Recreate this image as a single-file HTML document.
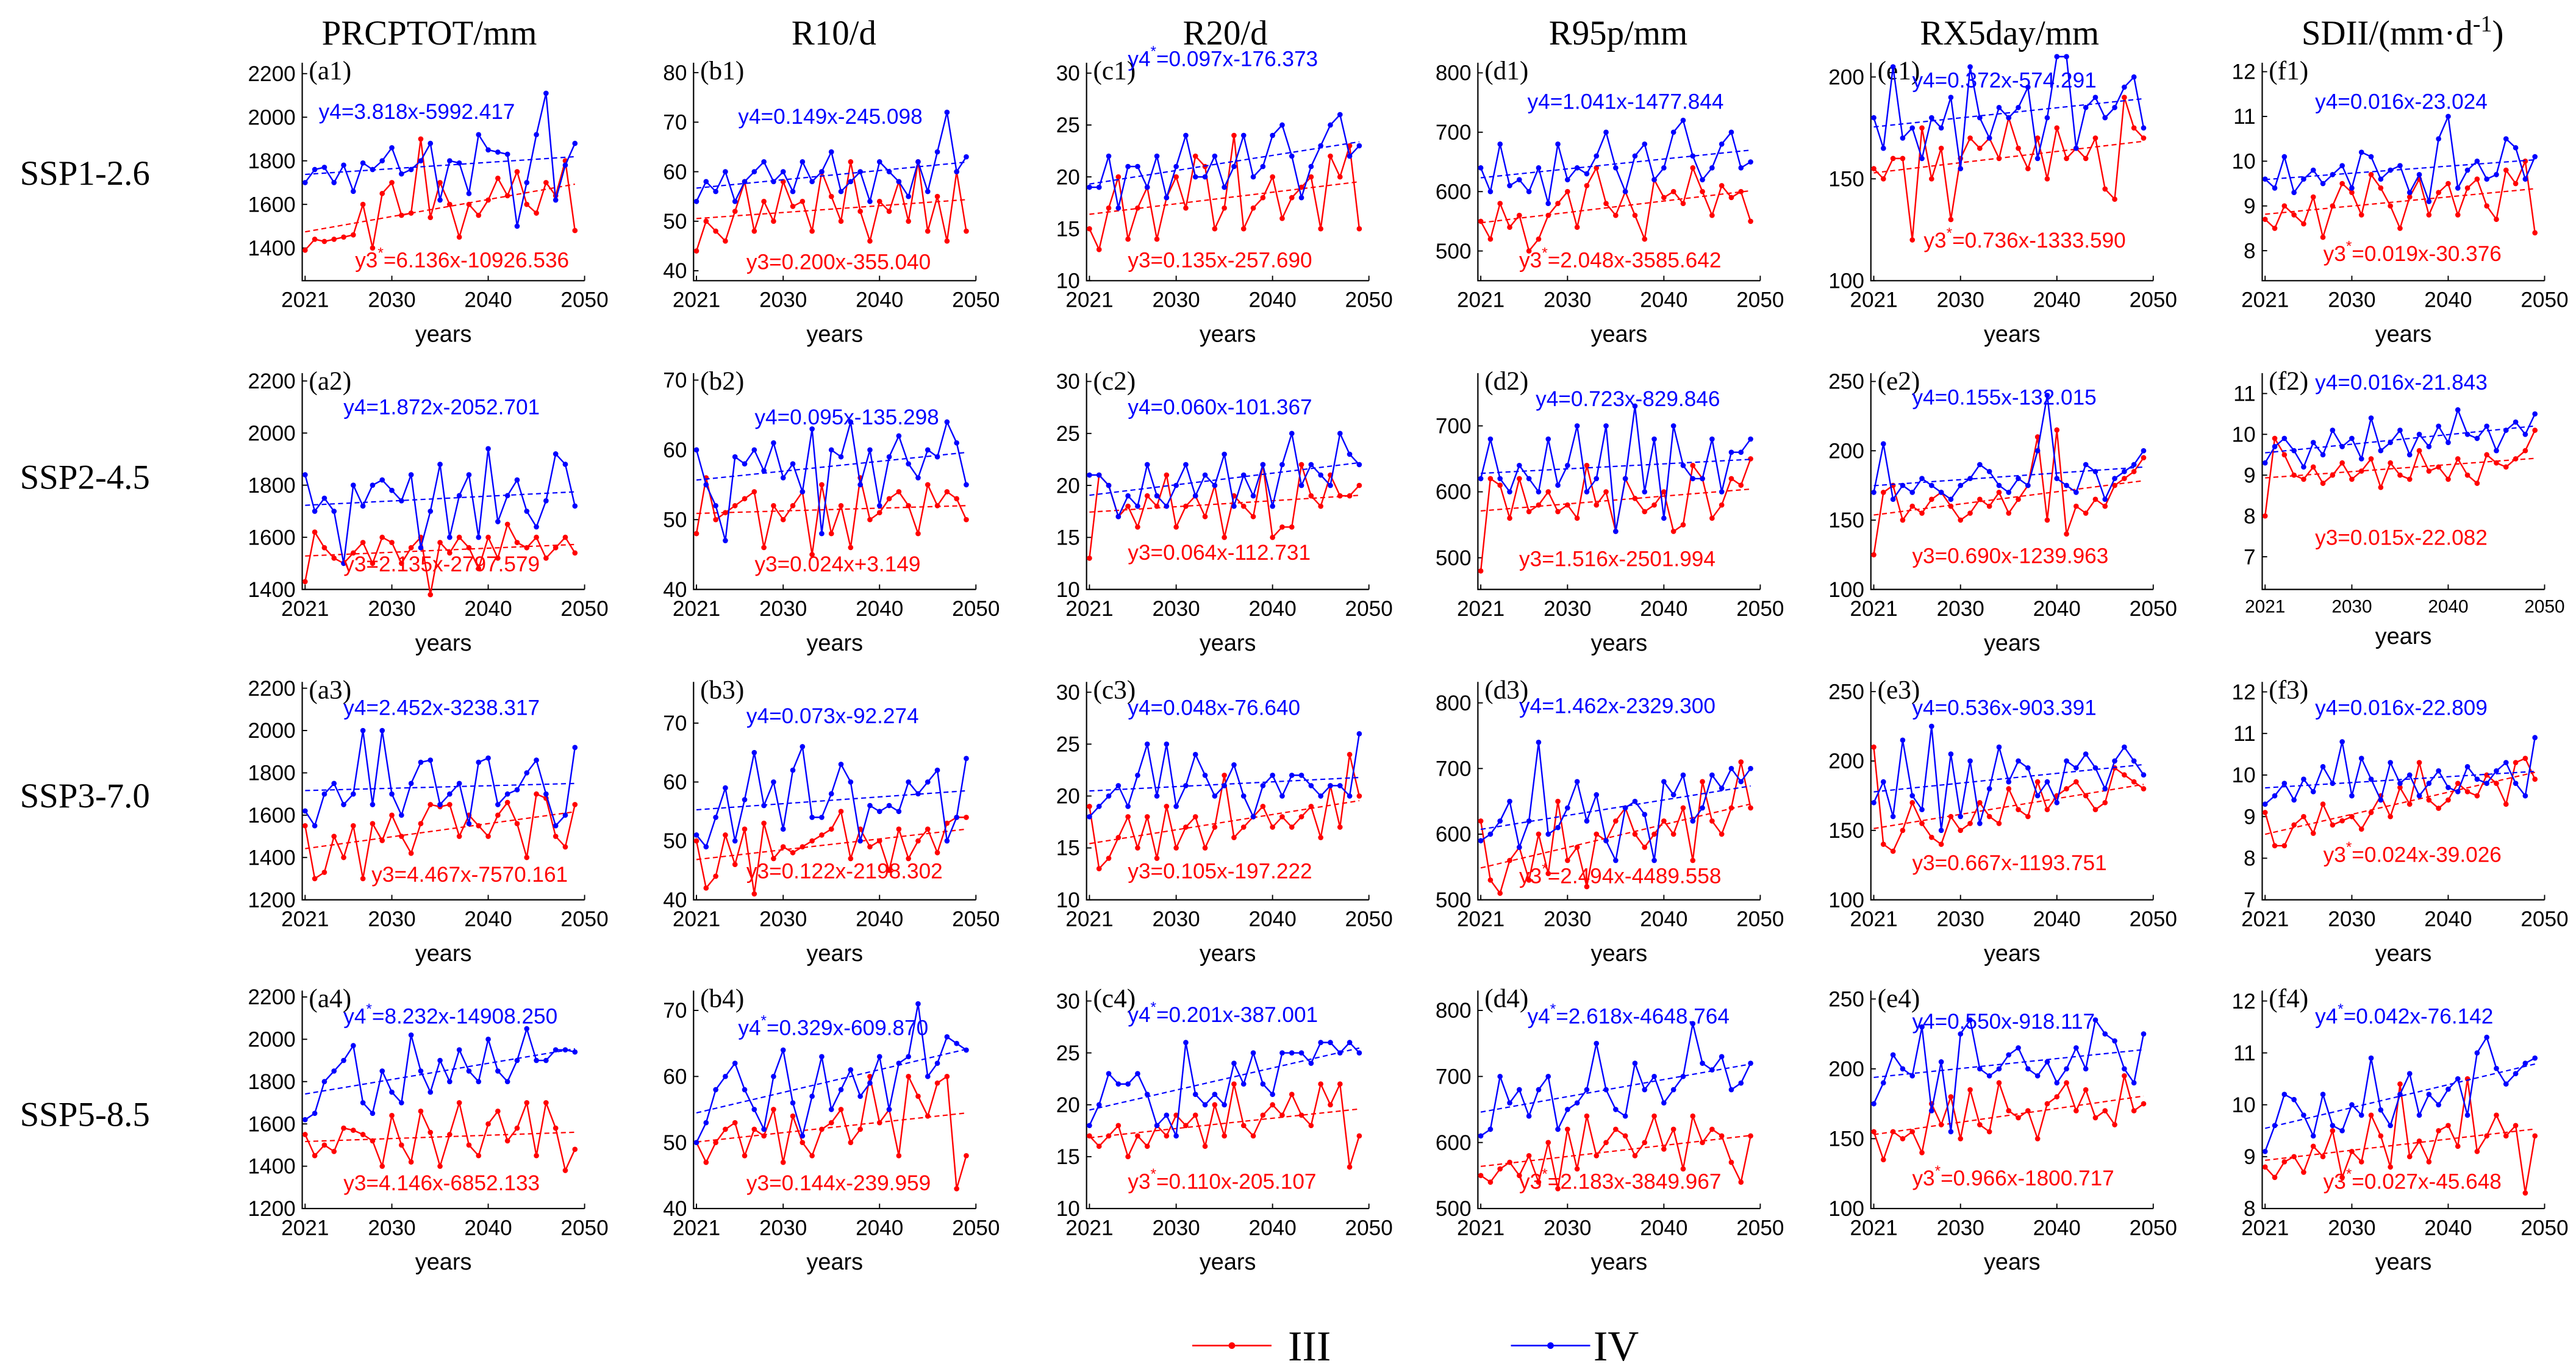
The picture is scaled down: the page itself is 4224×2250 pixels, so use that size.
<!DOCTYPE html>
<html><head><meta charset="utf-8"><style>
html,body{margin:0;padding:0;background:#fff;}
svg{display:block;}
</style></head><body>
<svg id="chart" width="4224" height="2250" viewBox="0 0 1560 831" xmlns="http://www.w3.org/2000/svg" font-family="Liberation Sans, Arial, sans-serif">
<rect width="1560" height="831" fill="#fff"/>
</svg>
<script>
const years = [];
for (let y = 2021; y <= 2049; y++) years.push(y);
const colTitles = ["PRCPTOT/mm","R10/d","R20/d","R95p/mm","RX5day/mm","SDII"];
const rowTitles = ["SSP1-2.6","SSP2-4.5","SSP3-7.0","SSP5-8.5"];
const panelLetters = ["a","b","c","d","e","f"];
const yRanges = [
 [[1250,2250,[1400,1600,1800,2000,2200]],[38,82,[40,50,60,70,80]],[10,31,[10,15,20,25,30]],[450,817,[500,600,700,800]],[100,207,[100,150,200]],[7.33,12.2,[8,9,10,11,12]]],
 [[1400,2230,[1400,1600,1800,2000,2200]],[40,71,[40,50,60,70]],[10,30.8,[10,15,20,25,30]],[452,780,[500,600,700]],[100,256,[100,150,200,250]],[6.2,11.5,[7,8,9,10,11]]],
 [[1200,2230,[1200,1400,1600,1800,2000,2200]],[40,77,[40,50,60,70]],[10,31,[10,15,20,25,30]],[500,832,[500,600,700,800]],[100,257,[100,150,200,250]],[7,12.24,[7,8,9,10,11,12]]],
 [[1200,2230,[1200,1400,1600,1800,2000,2200]],[40,73,[40,50,60,70]],[10,31,[10,15,20,25,30]],[500,830,[500,600,700,800]],[100,256,[100,150,200,250]],[8,12.2,[8,9,10,11,12]]]
];
const seriesIII = [
 [[1390,1440,1430,1440,1450,1460,1600,1400,1650,1700,1550,1560,1900,1540,1700,1600,1450,1600,1550,1620,1720,1640,1750,1600,1560,1700,1640,1800,1480],
  [44,50,48,46,52,58,48,54,50,58,53,54,48,60,55,50,62,52,46,54,52,58,50,62,48,55,46,60,48],
  [15,13,17,20,14,17,19,14,18,20,17,22,21,15,17,24,15,17,18,20,16,18,19,20,15,22,20,23,15],
  [550,520,580,540,560,500,520,560,580,600,540,610,640,580,560,600,560,520,620,590,600,580,640,600,560,610,590,600,550],
  [155,150,160,160,120,175,150,165,130,160,170,165,170,160,180,165,155,170,150,175,160,165,160,170,145,140,190,175,170],
  [8.7,8.5,9.0,8.8,8.6,9.2,8.3,9.0,9.5,9.3,8.8,9.7,9.4,9.0,8.5,9.2,9.6,8.8,9.3,9.5,8.8,9.4,9.6,9.0,8.7,9.8,9.5,10.0,8.4]],
 [[1430,1620,1560,1520,1500,1540,1580,1500,1600,1580,1500,1560,1600,1380,1580,1540,1600,1560,1480,1600,1520,1650,1580,1560,1600,1520,1560,1600,1540],
  [48,56,50,51,52,53,54,46,52,50,52,54,45,55,48,52,46,56,50,51,53,54,52,48,55,52,54,53,50],
  [13,21,20,17,18,16,19,18,21,16,18,19,17,20,15,19,18,17,22,15,16,16,22,19,18,21,19,19,20],
  [480,620,610,560,620,570,580,600,570,580,560,640,580,600,540,620,590,570,580,600,540,550,640,620,560,580,620,610,650],
  [125,170,175,150,160,155,165,170,160,150,155,165,160,170,155,165,175,210,150,215,140,160,155,165,160,175,180,185,195],
  [8.0,9.9,9.5,9.0,8.9,9.2,8.8,9.0,9.3,8.9,9.1,9.4,8.7,9.3,9.0,8.9,9.6,9.1,9.2,8.9,9.4,9.0,8.8,9.5,9.3,9.2,9.4,9.6,10.1]],
 [[1550,1300,1330,1500,1400,1550,1300,1560,1480,1600,1500,1420,1560,1650,1640,1650,1500,1600,1550,1500,1600,1660,1560,1400,1700,1680,1500,1450,1650],
  [50,42,44,51,46,52,41,53,47,49,48,49,50,51,52,55,47,52,49,50,45,52,47,50,52,48,53,54,54],
  [19,13,14,16,18,15,18,14,19,15,17,18,15,17,22,16,17,18,19,17,18,17,18,19,16,21,17,24,20],
  [620,530,510,560,580,530,600,540,650,560,580,520,600,590,620,640,600,580,600,620,600,640,560,680,620,600,640,710,640],
  [210,140,135,150,170,155,145,140,160,150,155,170,160,155,180,165,160,185,165,175,180,185,175,165,170,195,190,185,180],
  [9.1,8.3,8.3,8.8,9.0,8.6,9.3,8.8,8.9,9.0,8.7,9.1,9.5,9.0,9.7,9.3,10.3,9.4,9.2,9.4,9.8,9.6,9.5,10.0,9.8,9.3,10.3,10.4,9.9]],
 [[1550,1450,1500,1470,1580,1570,1550,1520,1400,1640,1500,1420,1660,1560,1400,1550,1700,1500,1450,1600,1660,1520,1580,1700,1450,1700,1580,1380,1480],
  [50,47,50,52,53,48,52,51,55,47,54,50,48,52,53,55,50,52,60,53,55,48,60,57,54,59,60,43,48],
  [17,16,17,18,15,17,16,18,17,19,18,19,16,20,17,22,18,17,19,20,19,21,19,18,22,20,22,14,17],
  [550,540,560,570,550,580,540,600,530,620,560,640,580,600,620,610,580,600,640,590,620,560,640,600,620,610,570,540,610],
  [155,135,155,150,155,140,175,160,180,150,185,160,155,190,170,165,170,150,175,180,190,170,185,165,170,160,195,170,175],
  [8.8,8.6,8.9,9.0,8.7,9.2,9.0,9.5,8.6,9.1,8.9,9.8,9.4,8.8,10.4,9.0,9.3,8.9,9.5,9.6,9.2,10.5,9.1,9.4,9.8,9.4,9.6,8.3,9.4]]
];
const seriesIV = [
 [[1700,1760,1770,1700,1780,1660,1790,1760,1800,1860,1740,1760,1800,1880,1620,1800,1790,1650,1920,1850,1840,1830,1500,1700,1920,2110,1620,1780,1880],
  [54,58,56,60,54,58,60,62,58,60,56,62,58,60,64,56,58,60,54,62,60,58,55,62,56,64,72,60,63],
  [19,19,22,17,21,21,19,22,18,21,24,20,20,22,19,21,24,20,21,24,25,22,18,21,23,25,26,22,23],
  [640,600,680,610,620,600,640,580,680,620,640,630,660,700,640,600,660,680,620,640,700,720,660,620,640,680,700,640,650],
  [180,165,205,170,175,160,180,175,190,155,205,180,170,185,180,185,195,160,180,210,210,165,185,190,180,185,195,200,175],
  [9.6,9.4,10.1,9.3,9.6,9.8,9.5,9.7,9.9,9.4,10.2,10.1,9.6,9.8,9.9,9.3,9.7,9.1,10.5,11.0,9.4,9.8,10.0,9.6,9.7,10.5,10.3,9.6,10.1]],
 [[1840,1700,1750,1700,1500,1800,1720,1800,1820,1780,1740,1840,1560,1700,1880,1600,1760,1840,1600,1940,1660,1760,1820,1700,1640,1740,1920,1880,1720],
  [60,55,52,47,59,58,60,57,61,56,58,54,63,48,60,59,64,55,60,52,59,62,58,56,60,59,64,61,55],
  [21,21,20,17,19,18,22,19,18,20,22,19,21,20,23,18,21,19,22,18,22,25,20,22,21,20,25,23,22],
  [620,680,620,600,640,620,600,680,610,640,700,600,620,700,540,620,730,600,680,560,700,640,620,620,680,600,660,660,680],
  [170,205,165,175,170,180,175,170,165,175,180,190,185,175,170,180,175,200,240,180,175,170,190,185,165,180,185,190,200],
  [9.3,9.7,9.9,9.6,9.2,9.8,9.5,10.1,9.7,9.9,9.4,10.4,9.6,9.8,10.1,9.5,10.0,9.7,10.2,9.8,10.6,10.0,9.9,10.2,9.6,10.1,10.3,10.0,10.5]],
 [[1620,1550,1700,1750,1650,1700,2000,1650,2000,1700,1600,1750,1850,1860,1650,1700,1750,1560,1850,1870,1650,1700,1720,1800,1860,1700,1550,1600,1920],
  [51,49,54,59,50,57,65,56,60,52,62,66,54,54,58,63,60,50,56,55,56,55,60,58,60,62,50,54,64],
  [18,19,20,21,19,22,25,20,25,19,21,24,22,20,21,23,20,18,21,22,20,22,22,21,20,21,21,20,26],
  [590,600,620,650,580,620,740,600,610,640,680,620,660,590,560,640,650,630,560,680,660,690,620,640,690,670,700,680,700],
  [170,185,160,215,175,165,225,150,205,160,200,155,180,210,185,200,195,175,185,170,200,195,205,195,180,200,210,200,190],
  [9.3,9.5,9.8,9.4,9.9,9.6,10.2,9.8,10.8,9.5,10.4,9.9,9.4,10.3,9.8,10.0,9.5,9.8,10.1,9.7,9.6,10.2,9.9,9.8,10.1,10.3,9.8,9.5,10.9]],
 [[1620,1650,1800,1850,1900,1970,1700,1650,1850,1750,1700,2020,1850,1750,1900,1800,1950,1850,1800,2000,1850,1800,1900,2050,1900,1900,1950,1950,1940],
  [50,53,58,60,62,58,55,52,60,64,56,51,57,63,55,58,61,57,59,63,55,62,63,71,60,62,66,65,64],
  [18,20,23,22,22,23,21,18,19,17,26,21,20,21,20,24,22,25,22,21,25,25,25,24,26,26,25,26,25],
  [610,620,700,660,680,640,680,700,620,650,660,680,750,680,650,640,720,680,700,660,680,700,780,720,710,730,680,690,720],
  [175,190,210,200,195,230,170,205,155,225,235,200,195,200,210,215,200,195,205,190,200,215,200,235,225,220,200,190,225],
  [9.1,9.6,10.2,10.1,9.8,9.4,10.2,9.6,9.5,10.0,9.8,10.9,9.9,9.6,10.2,10.6,9.8,10.2,10.0,10.3,10.5,9.8,11.0,11.3,10.7,10.4,10.6,10.8,10.9]]
];
const eqIV = [
 ["y4=3.818x-5992.417","y4=0.149x-245.098","y4*=0.097x-176.373","y4=1.041x-1477.844","y4=0.372x-574.291","y4=0.016x-23.024"],
 ["y4=1.872x-2052.701","y4=0.095x-135.298","y4=0.060x-101.367","y4=0.723x-829.846","y4=0.155x-132.015","y4=0.016x-21.843"],
 ["y4=2.452x-3238.317","y4=0.073x-92.274","y4=0.048x-76.640","y4=1.462x-2329.300","y4=0.536x-903.391","y4=0.016x-22.809"],
 ["y4*=8.232x-14908.250","y4*=0.329x-609.870","y4*=0.201x-387.001","y4*=2.618x-4648.764","y4=0.550x-918.117","y4*=0.042x-76.142"]
];
const eqIII = [
 ["y3*=6.136x-10926.536","y3=0.200x-355.040","y3=0.135x-257.690","y3*=2.048x-3585.642","y3*=0.736x-1333.590","y3*=0.019x-30.376"],
 ["y3=2.135x-2797.579","y3=0.024x+3.149","y3=0.064x-112.731","y3=1.516x-2501.994","y3=0.690x-1239.963","y3=0.015x-22.082"],
 ["y3=4.467x-7570.161","y3=0.122x-2198.302","y3=0.105x-197.222","y3*=2.494x-4489.558","y3=0.667x-1193.751","y3*=0.024x-39.026"],
 ["y3=4.146x-6852.133","y3=0.144x-239.959","y3*=0.110x-205.107","y3*=2.183x-3849.967","y3*=0.966x-1800.717","y3*=0.027x-45.648"]
];
const xTicks = [2021,2030,2040,2050];

const svg = document.getElementById('chart');
const NS = 'http://www.w3.org/2000/svg';
function mk(tag, attrs, parent) {
  const e = document.createElementNS(NS, tag);
  for (const k in attrs) e.setAttribute(k, attrs[k]);
  (parent || svg).appendChild(e);
  return e;
}
const colX = [183,420,658,895,1133,1370];
const boxW = 171;
const rowY = [[38,170],[226,357],[413,545],[600,732]];
const eqPosIV = [
 [[193,72],[447,75],[683,40],[925,66],[1158,53],[1402,66]],
 [[208,251],[457,257],[683,251],[930,246],[1158,245],[1402,236]],
 [[208,433],[452,438],[683,433],[920,432],[1158,433],[1402,433]],
 [[208,620],[447,627],[683,619],[925,620],[1158,623],[1402,620]]];
const eqPosIII = [
 [[215,162],[452,163],[683,162],[920,162],[1165,150],[1407,158]],
 [[208,346],[457,346],[683,339],[920,343],[1158,341],[1402,330]],
 [[225,534],[452,532],[683,532],[920,535],[1158,527],[1407,522]],
 [[208,721],[452,721],[683,720],[920,720],[1158,718],[1407,720]]];

function eqText(str, x, y, color, parent) {
  const t = mk('text', {x: x, y: y, 'font-size': 13, fill: color}, parent);
  const i = str.indexOf('*');
  if (i < 0) { t.textContent = str; return t; }
  const a = mk('tspan', {}, t); a.textContent = str.slice(0, i);
  const s = mk('tspan', {dy: -6, 'font-size': 9}, t); s.textContent = '*';
  const b = mk('tspan', {dy: 6}, t); b.textContent = str.slice(i + 1);
  return t;
}
function regress(vals) {
  const n = vals.length; let sx=0,sy=0,sxx=0,sxy=0;
  vals.forEach((v,i)=>{sx+=i;sy+=v;sxx+=i*i;sxy+=i*v;});
  const b=(n*sxy-sx*sy)/(n*sxx-sx*sx); const a=(sy-b*sx)/n; return [a,b];
}

// column titles
const ctx = [260,505,742,980,1217,1455];
colTitles.forEach((t,i)=>{
  const el = mk('text',{x:ctx[i],y:27,'font-size':21,'text-anchor':'middle','font-family':'Liberation Serif, serif'});
  
  
  if (i === 5) {
    el.appendChild(document.createTextNode('SDII/(mm·d'));
    const s = mk('tspan',{dy:-8,'font-size':14},el); s.textContent='-1';
    const s2 = mk('tspan',{dy:8},el); s2.textContent=')';
  } else el.textContent = t;
});
const rty = [112,296,489,682];
rowTitles.forEach((t,i)=>{
  const el = mk('text',{x:12,y:rty[i],'font-size':21,'font-family':'Liberation Serif, serif'});
  
  
  el.textContent = t;
});

for (let r=0;r<4;r++) for (let c=0;c<6;c++) {
  const g = mk('g',{});
  
  
  const x0 = colX[c], x1 = x0 + boxW, y0 = rowY[r][0], y1 = rowY[r][1];
  const [ymin,ymax,yt] = yRanges[r][c];
  const X = yr => x0 + (yr - 2020.7) / (2050 - 2020.7) * (x1 - x0);
  const Y = v => y1 - (v - ymin) / (ymax - ymin) * (y1 - y0);
  // axes
  const ax = mk('path',{d:`M${x0},${y0}V${y1}H${x1}`,stroke:'#000','stroke-width':0.8,fill:'none'},g);
  
  
  yt.forEach(v=>{
    mk('line',{x1:x0,x2:x0+3,y1:Y(v),y2:Y(v),stroke:'#000','stroke-width':0.7},g);
    const tl = mk('text',{x:x0-4,y:Y(v)+4.5,'font-size':13,'text-anchor':'end'},g);
    
    
    tl.textContent = v;
  });
  const xfs = (r===1 && c===5) ? 11 : 13;
  xTicks.forEach(v=>{
    mk('line',{x1:X(v),x2:X(v),y1:y1,y2:y1-3,stroke:'#000','stroke-width':0.7},g);
    const tl = mk('text',{x:X(v),y:y1+(xfs===13?16:14),'font-size':xfs,'text-anchor':'middle'},g);
    
    
    tl.textContent = v;
  });
  const xl = mk('text',{x:(x0+x1)/2,y:y1+(xfs===13?37:33),'font-size':14,'text-anchor':'middle'},g);
  
  
  xl.textContent = 'years';
  const pl = mk('text',{x:x0+4,y:y0+10,'font-size':16,'font-family':'Liberation Serif, serif'},g);
  
  
  pl.textContent = '(' + panelLetters[c] + (r+1) + ')';
  [[seriesIII[r][c],'#ff0000','III'],[seriesIV[r][c],'#0000ff','IV']].forEach(([vals,col,nm])=>{
    const [a,b] = regress(vals);
    const tr = mk('line',{x1:X(years[0]),y1:Y(a),x2:X(years[years.length-1]),y2:Y(a+b*(vals.length-1)),stroke:col,'stroke-width':0.8,'stroke-dasharray':'3,2'},g);
    
    
    const ln = mk('polyline',{points:vals.map((v,i)=>X(years[i])+','+Y(v)).join(' '),stroke:col,'stroke-width':0.9,fill:'none'},g);
    
    
    vals.forEach((v,i)=>{
      const d = mk('circle',{cx:X(years[i]),cy:Y(v),r:1.6,fill:col},g);
      
      
    });
  });
  const e4 = eqText(eqIV[r][c], eqPosIV[r][c][0], eqPosIV[r][c][1], '#0000ff', g);
  
  
  const e3 = eqText(eqIII[r][c], eqPosIII[r][c][0], eqPosIII[r][c][1], '#ff0000', g);
  
  
}

// legend
const lg = mk('g',{});


[[722,'#ff0000','III',780],[915,'#0000ff','IV',965]].forEach(([x,col,lab,tx])=>{
  const e = mk('g',{},lg);
  
  
  mk('line',{x1:x,x2:x+48,y1:815,y2:815,stroke:col,'stroke-width':1},e);
  mk('circle',{cx:x+24,cy:815,r:2,fill:col},e);
  const t = mk('text',{x:tx,y:824,'font-size':26,'font-family':'Liberation Serif, serif'},e);
  t.textContent = lab;
});
</script>
</body></html>
